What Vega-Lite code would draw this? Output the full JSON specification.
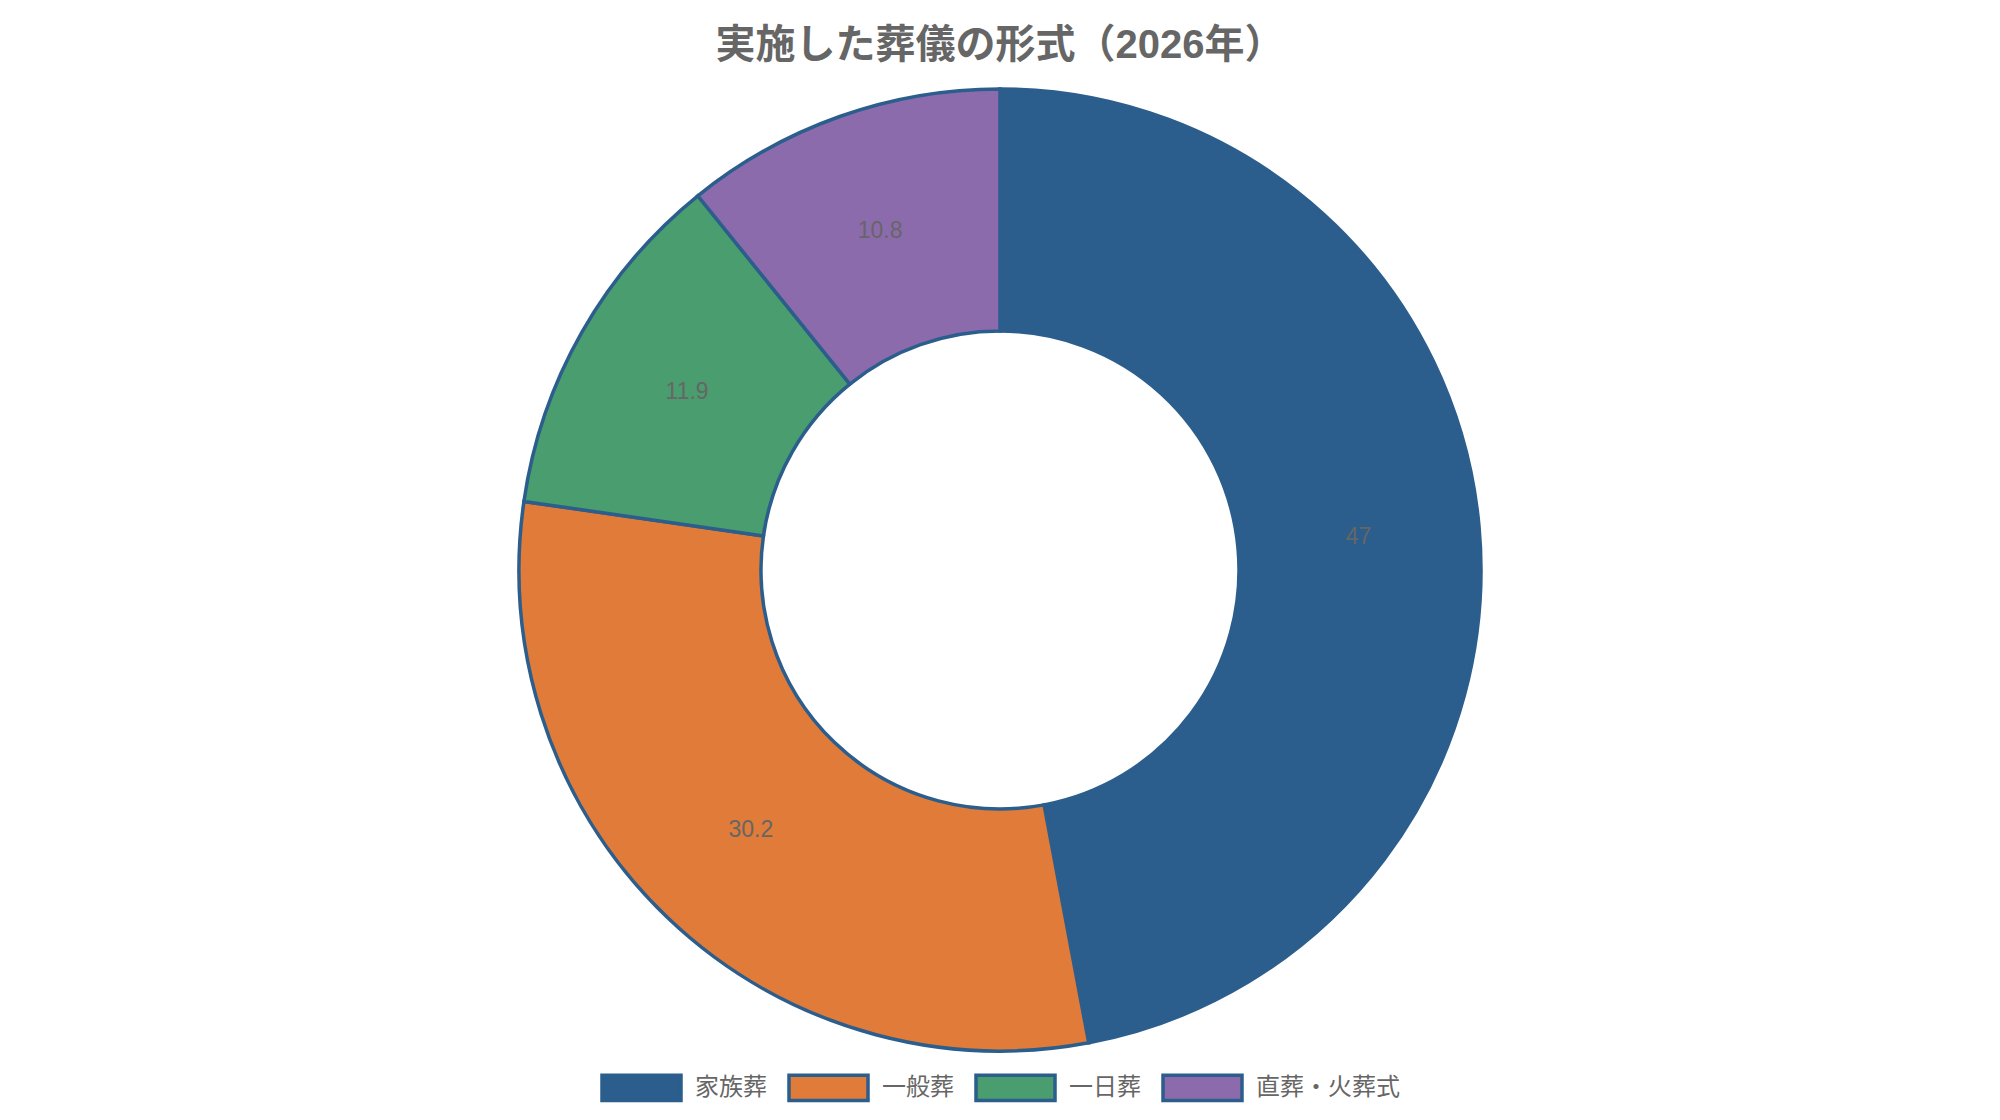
{
  "$schema": "https://vega.github.io/schema/vega-lite/v6.json",
  "width": 2000,
  "height": 980,
  "autosize": {"type": "none"},
  "padding": {"top": 80, "bottom": 60, "left": 0, "right": 0},
  "title": {
    "text": "実施した葬儀の形式（2026年）",
    "fontSize": 40,
    "fontWeight": "bold",
    "color": "#666666",
    "font": "Liberation Sans, Noto Sans CJK JP",
    "anchor": "middle",
    "offset": 14
  },
  "data": {
    "values": [
      {"type": "家族葬", "value": 47, "order": 1},
      {"type": "一般葬", "value": 30.2, "order": 2},
      {"type": "一日葬", "value": 11.9, "order": 3},
      {"type": "直葬・火葬式", "value": 10.8, "order": 4}
    ]
  },
  "encoding": {
    "theta": {"field": "value", "type": "quantitative", "stack": true},
    "order": {"field": "order", "type": "quantitative"}
  },
  "layer": [
    {
      "mark": {
        "type": "arc",
        "outerRadius": 481,
        "innerRadius": 239,
        "stroke": "#2b5e8c",
        "strokeWidth": 3.5
      },
      "encoding": {
        "color": {
          "field": "type",
          "type": "nominal",
          "sort": ["家族葬", "一般葬", "一日葬", "直葬・火葬式"],
          "scale": {
            "domain": ["家族葬", "一般葬", "一日葬", "直葬・火葬式"],
            "range": ["#2b5e8c", "#e07b39", "#4a9d6e", "#8c6bad"]
          },
          "legend": {
            "orient": "bottom",
            "direction": "horizontal",
            "title": null,
            "symbolType": "M-1,-0.32H1V0.32H-1Z",
            "symbolSize": 6241,
            "symbolStrokeColor": "#2b5e8c",
            "symbolStrokeWidth": 3.5,
            "symbolOpacity": 1,
            "labelFontSize": 24,
            "labelColor": "#666666",
            "labelFont": "Liberation Sans, Noto Sans CJK JP",
            "labelOffset": 12,
            "columnPadding": 15,
            "offset": -14
          }
        }
      }
    },
    {
      "mark": {
        "type": "text",
        "radius": 360,
        "fontSize": 23,
        "color": "#666666",
        "font": "Liberation Sans"
      },
      "encoding": {
        "text": {"field": "value", "type": "quantitative"}
      }
    }
  ],
  "config": {
    "view": {"stroke": null},
    "legend": {"layout": {"bottom": {"anchor": "middle"}}}
  }
}
